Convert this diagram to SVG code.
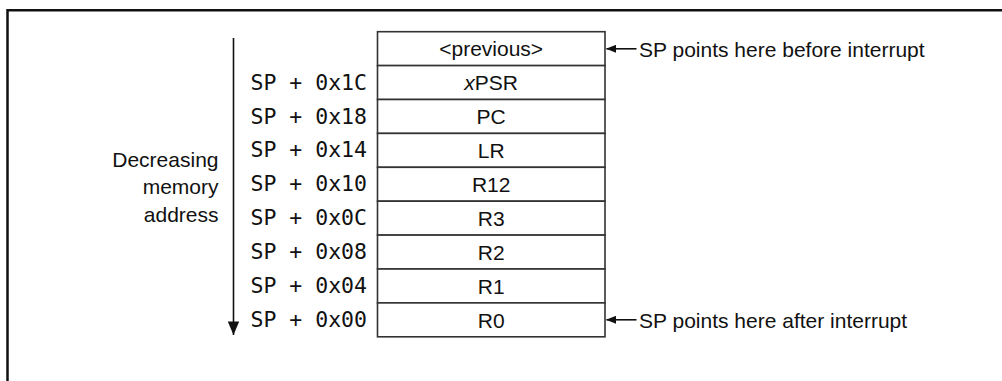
<svg xmlns="http://www.w3.org/2000/svg" width="1002" height="381" viewBox="0 0 1002 381">
<defs>
<style>
.cell{fill:#fff;stroke:#333;stroke-width:1.6}
.t{font-family:"Liberation Sans",Arial,sans-serif;font-size:21px;fill:#111}
.c{text-anchor:middle}
.r{text-anchor:end}
.m{font-family:"DejaVu Sans Mono","Liberation Mono",monospace;font-size:21.5px;fill:#111}
.ln{stroke:#111;stroke-width:1.6;fill:none}
</style>
<marker id="ah" markerWidth="10" markerHeight="8" refX="9.5" refY="4" orient="auto" markerUnits="userSpaceOnUse">
<path d="M0,0 L10,4 L0,8 Z" fill="#111"/>
</marker>
</defs>
<rect width="1002" height="381" fill="#fff"/>
<path d="M7.5,381 V10.3 H1002" fill="none" stroke="#111" stroke-width="2.5"/>

<g id="stack">
<g id="cell-previous"><rect class="cell" x="377.5" y="31.7" width="227.5" height="33.9"/><text class="t c" x="491.2" y="56.4">&lt;previous&gt;</text></g>
<g id="cell-xpsr"><rect class="cell" x="377.5" y="65.6" width="227.5" height="33.9"/><text class="t c" x="491.2" y="90.3"><tspan font-style="italic">x</tspan>PSR</text></g>
<g id="cell-pc"><rect class="cell" x="377.5" y="99.5" width="227.5" height="33.9"/><text class="t c" x="491.2" y="124.2">PC</text></g>
<g id="cell-lr"><rect class="cell" x="377.5" y="133.4" width="227.5" height="33.9"/><text class="t c" x="491.2" y="158.1">LR</text></g>
<g id="cell-r12"><rect class="cell" x="377.5" y="167.3" width="227.5" height="33.9"/><text class="t c" x="491.2" y="192">R12</text></g>
<g id="cell-r3"><rect class="cell" x="377.5" y="201.2" width="227.5" height="33.9"/><text class="t c" x="491.2" y="225.9">R3</text></g>
<g id="cell-r2"><rect class="cell" x="377.5" y="235.1" width="227.5" height="33.9"/><text class="t c" x="491.2" y="259.8">R2</text></g>
<g id="cell-r1"><rect class="cell" x="377.5" y="269" width="227.5" height="33.9"/><text class="t c" x="491.2" y="293.7">R1</text></g>
<g id="cell-r0"><rect class="cell" x="377.5" y="302.9" width="227.5" height="33.9"/><text class="t c" x="491.2" y="327.6">R0</text></g>
</g>

<g id="offsets">
<text class="m" x="250.5" y="89.6">SP + 0x1C</text>
<text class="m" x="250.5" y="123.5">SP + 0x18</text>
<text class="m" x="250.5" y="157.4">SP + 0x14</text>
<text class="m" x="250.5" y="191.3">SP + 0x10</text>
<text class="m" x="250.5" y="225.2">SP + 0x0C</text>
<text class="m" x="250.5" y="259.1">SP + 0x08</text>
<text class="m" x="250.5" y="293">SP + 0x04</text>
<text class="m" x="250.5" y="326.8">SP + 0x00</text>
</g>

<g id="axis-label">
<text class="t r" x="218.5" y="166.7">Decreasing</text>
<text class="t r" x="218.5" y="194">memory</text>
<text class="t r" x="218.5" y="221.5">address</text>
</g>

<g id="note-before"><text class="t" x="639" y="56.5">SP points here before interrupt</text></g>
<g id="note-after"><text class="t" x="639" y="327.5">SP points here after interrupt</text></g>

<g id="connectors">
<line class="ln" x1="233.5" y1="38" x2="233.5" y2="335" marker-end="url(#ahv)"/>
<path d="M227.8,321.5 L239.2,321.5 L233.5,335 Z" fill="#111"/>
<line class="ln" x1="636.5" y1="48.8" x2="606.5" y2="48.8" marker-end="url(#ah)"/>
<line class="ln" x1="636.5" y1="319.8" x2="606.5" y2="319.8" marker-end="url(#ah)"/>
</g>
</svg>
